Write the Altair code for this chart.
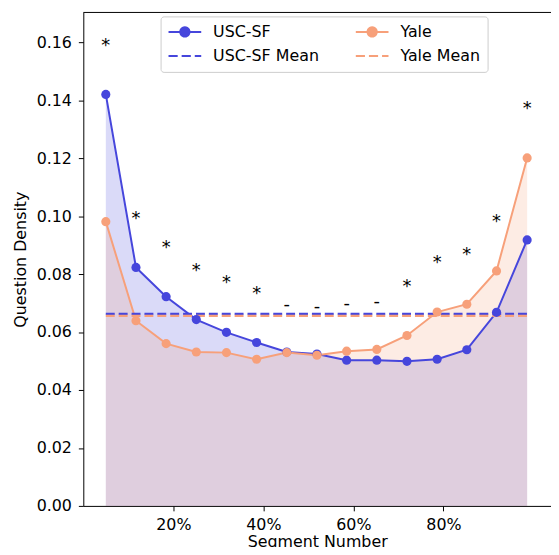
import math
import altair as alt
import pandas as pd

# ---------------- data ----------------
segment_pct = [5.0, 11.7, 18.4, 25.1, 31.8, 38.5, 45.2, 51.9, 58.5, 65.2, 71.9, 78.6, 85.2, 91.8, 98.6]
usc_sf = [0.1420, 0.0823, 0.0722, 0.0643, 0.0599, 0.0564, 0.0531, 0.0524, 0.0503, 0.0503,
          0.0499, 0.0506, 0.0539, 0.0668, 0.0918]
yale = [0.0981, 0.0639, 0.0560, 0.0531, 0.0529, 0.0506, 0.0529, 0.0520, 0.0534, 0.0540,
        0.0588, 0.0669, 0.0696, 0.0811, 0.1201]
sig_marks = ["*", "*", "*", "*", "*", "*", "-", "-", "-", "-", "*", "*", "*", "*", "*"]
usc_sf_mean = 0.0663
yale_mean = 0.0656
x_ticks = [20, 40, 60, 80]
y_ticks = [0.00, 0.02, 0.04, 0.06, 0.08, 0.10, 0.12, 0.14, 0.16]
series_names = ["USC-SF", "USC-SF Mean", "Yale", "Yale Mean"]

# ---------------- styling ----------------
BLUE = "#4646dc"
ORANGE = "#f7a07a"
series_colors = [BLUE, BLUE, ORANGE, ORANGE]
FONT = "DejaVu Sans"
FS = 16
W, H = 472, 498

# legend symbol shapes (unit = sqrt(symbolSize)/2 = 5 px)
cx, r = 1.8, 0.94
circle = "M" + "L".join(
    f"{cx + r*math.cos(2*math.pi*k/24):.3f},{r*math.sin(2*math.pi*k/24):.3f}" for k in range(24)
) + "Z"
line_marker_path = "M-1.5,0L5.1,0" + circle
dash_path = "M-1.5,0L0.35,0M1.15,0L3.0,0M3.8,0L5.1,0"
shape_range = [line_marker_path, dash_path, line_marker_path, dash_path]

# ---------------- tables ----------------
n = len(segment_pct)
long_df = pd.DataFrame({
    "x": segment_pct * 2,
    "y": usc_sf + yale,
    "series": ["USC-SF"] * n + ["Yale"] * n,
})
ann_df = pd.DataFrame({
    "x": segment_pct,
    "ytop": [max(a, b) for a, b in zip(usc_sf, yale)],
    "label": sig_marks,
})
mean_df = pd.DataFrame({
    "series": ["USC-SF Mean", "Yale Mean"],
    "y": [usc_sf_mean, yale_mean],
    "x1": [segment_pct[0]] * 2,
    "x2": [segment_pct[-1]] * 2,
})
legend_df = pd.DataFrame({"series": series_names})
frame_df = pd.DataFrame({"k": [0]})

x_scale = alt.Scale(domain=[0, 103.9], nice=False, zero=False)
y_scale = alt.Scale(domain=[0, 0.1703], nice=False, zero=False)

x_axis = alt.Axis(values=x_ticks, labelExpr="datum.value + '%'", title="Segment Number",
                  tickSize=5, labelPadding=6, titlePadding=1, grid=False,
                  labelFlush=False, labelOverlap=False)
y_axis = alt.Axis(values=y_ticks, format=".2f", title="Question Density",
                  tickSize=5, labelPadding=7, titlePadding=8, grid=False,
                  labelFlush=False, labelOverlap=False)

X = alt.X("x:Q", scale=x_scale, axis=x_axis)
Y = alt.Y("y:Q", scale=y_scale, axis=y_axis, stack=None)
# color scale for the drawn marks (domain order differs from the legend scales)
color = alt.Color(
    "series:N",
    scale=alt.Scale(domain=["USC-SF", "Yale", "USC-SF Mean", "Yale Mean"],
                    range=[BLUE, ORANGE, BLUE, ORANGE]),
    legend=None,
)

areas = alt.Chart(long_df).mark_area(opacity=0.2).encode(x=X, y=Y, color=color)
lines = alt.Chart(long_df).mark_line(strokeWidth=2).encode(x=X, y=Y, color=color)
points = alt.Chart(long_df).mark_circle(size=85, opacity=1).encode(x=X, y=Y, color=color)

mean_rules = alt.Chart(mean_df).mark_rule(strokeDash=[9, 4], strokeWidth=2.2).encode(
    x=alt.X("x1:Q", scale=x_scale, axis=x_axis),
    x2="x2:Q",
    y=Y,
    color=color,
)

ann_base = alt.Chart(ann_df).transform_calculate(ypos="datum.ytop + 0.0172")
stars = ann_base.transform_filter("datum.label == '*'").mark_text(
    font=FONT, fontSize=18, baseline="middle", dy=1, color="black"
).encode(x=X, y=alt.Y("ypos:Q", scale=y_scale, axis=y_axis), text="label:N")
dashes = ann_base.transform_filter("datum.label == '-'").mark_text(
    font=FONT, fontSize=18, baseline="middle", dy=2.5, color="black"
).encode(x=X, y=alt.Y("ypos:Q", scale=y_scale, axis=y_axis), text="label:N")

leg = alt.Legend(
    title=None, orient="none", legendX=78, legendY=4, columns=2,
    columnPadding=32, rowPadding=7.5, padding=7.5, labelOffset=29.5,
    symbolSize=100, symbolStrokeWidth=2, symbolOpacity=1,
    labelFont=FONT, labelFontSize=FS, labelColor="black",
    strokeColor="#cccccc", fillColor="white", cornerRadius=3,
)
legend_layer = alt.Chart(legend_df).mark_point(filled=True, opacity=0).encode(
    fill=alt.Fill("series:N", scale=alt.Scale(domain=series_names, range=series_colors), legend=leg),
    stroke=alt.Stroke("series:N", scale=alt.Scale(domain=series_names, range=series_colors), legend=leg),
    shape=alt.Shape("series:N", scale=alt.Scale(domain=series_names, range=shape_range), legend=leg),
)

top_spine = alt.Chart(frame_df).mark_rule(color="black", strokeWidth=1).encode(
    x=alt.value(0), x2=alt.value(W), y=alt.value(0)
)

chart = alt.layer(
    areas, lines, mean_rules, points, stars, dashes, legend_layer, top_spine
).properties(
    width=W, height=H,
    autosize=alt.AutoSizeParams(type="none"),
    padding={"left": 76, "top": 2, "right": 0, "bottom": 39},
).configure_view(stroke=None).configure_axis(
    labelFont=FONT, labelFontSize=FS, labelColor="black",
    titleFont=FONT, titleFontSize=FS, titleColor="black", titleFontWeight="normal",
    domainColor="black", tickColor="black", domainWidth=1, tickWidth=1,
)

chart.save("out.html", embed_options={"renderer": "svg", "actions": False})
